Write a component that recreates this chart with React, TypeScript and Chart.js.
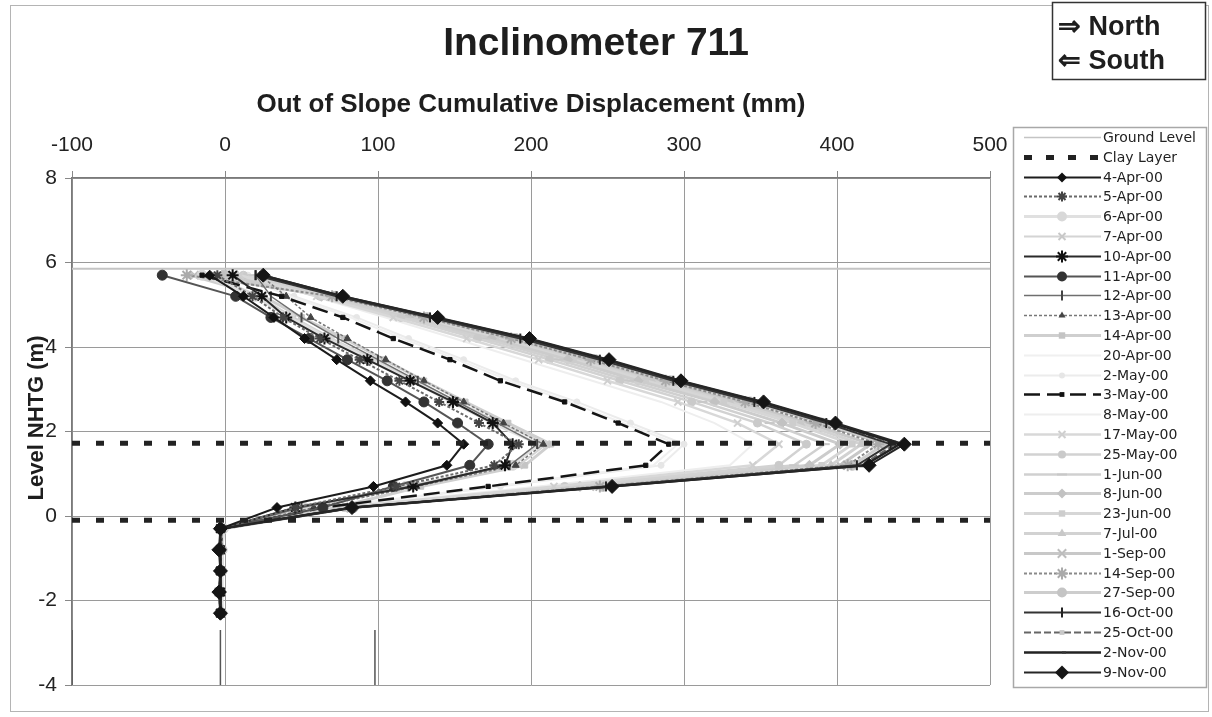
import React, { useEffect, useRef } from 'react';
import { Chart, registerables } from 'chart.js';

Chart.register(...registerables);

// ---------- data ----------
const titleText = 'Inclinometer 711';
const xAxisTitle = 'Out of Slope Cumulative Displacement (mm)';
const yAxisTitle = 'Level NHTG (m)';
const northLabel = '⇒ North';
const southLabel = '⇐ South';

const xTicks = [-100, 0, 100, 200, 300, 400, 500];
const yTicks = [-4, -2, 0, 2, 4, 6, 8];

const depths = [5.7, 5.2, 4.7, 4.2, 3.7, 3.2, 2.7, 2.2, 1.7, 1.2, 0.7, 0.2, -0.3, -0.8, -1.3, -1.8, -2.3];

const groundLevel = 5.85;
const clayLayerTop = 1.72;
const clayLayerBottom = -0.1;

const surveyDates = [
  '4-Apr-00', '5-Apr-00', '6-Apr-00', '7-Apr-00', '10-Apr-00', '11-Apr-00', '12-Apr-00', '13-Apr-00',
  '14-Apr-00', '20-Apr-00', '2-May-00', '3-May-00', '8-May-00', '17-May-00', '25-May-00', '1-Jun-00',
  '8-Jun-00', '23-Jun-00', '7-Jul-00', '1-Sep-00', '14-Sep-00', '27-Sep-00', '16-Oct-00', '25-Oct-00',
  '2-Nov-00', '9-Nov-00',
];

const apr04 = [-10, 12, 32, 52, 73, 95, 118, 139, 156, 145, 97, 34, -3, -3, -3, -3, -3];
const apr05 = [-5, 18, 38, 62, 88, 114, 140, 166, 192, 176, 112, 46, -2, -3, -3, -4, -3];
const apr06 = [-15, 20, 42, 68, 95, 122, 148, 175, 205, 188, 118, 52, -1, -2, -2, -3, -2];
const apr07 = [-8, 22, 45, 70, 98, 125, 152, 180, 210, 192, 122, 56, -2, -2, -3, -3, -3];
const apr10 = [5, 24, 40, 65, 93, 121, 149, 175, 188, 183, 123, 46, -3, -3, -3, -3, -3];
const apr11 = [-41, 7, 30, 55, 80, 106, 130, 152, 172, 160, 110, 64, -3, -3, -3, -3, -3];
const apr12 = [20, 30, 50, 74, 100, 126, 152, 178, 204, 186, 120, 50, -2, -3, -3, -3, -2];
const apr13 = [23, 40, 56, 80, 105, 130, 156, 182, 208, 190, 125, 58, -2, -2, -3, -3, -3];
const apr14 = [-23, 25, 50, 78, 104, 130, 157, 185, 213, 196, 128, 73, -1, -2, -2, -2, -2];
const apr20 = [10, 42, 82, 116, 152, 186, 225, 260, 296, 280, 176, 66, -2, -2, -3, -3, -3];
const may02 = [15, 45, 86, 120, 156, 190, 230, 265, 300, 285, 180, 68, -2, -2, -2, -3, -3];
const may03 = [-15, 37, 77, 110, 147, 180, 222, 257, 290, 275, 172, 64, -2, -3, -3, -3, -3];
const may08 = [15, 58, 105, 150, 195, 240, 285, 320, 345, 330, 205, 72, -2, -2, -3, -3, -3];
const may17 = [10, 60, 110, 158, 205, 250, 296, 335, 362, 345, 215, 75, -2, -2, -3, -3, -3];
const may25 = [12, 62, 115, 165, 212, 258, 305, 348, 380, 362, 222, 78, -1, -2, -2, -3, -3];
const jun01 = [18, 64, 118, 170, 218, 264, 312, 356, 392, 372, 228, 78, -2, -2, -2, -3, -2];
const jun08 = [-2, 63, 120, 174, 224, 270, 320, 364, 402, 382, 232, 80, -2, -3, -3, -3, -3];
const jun23 = [5, 66, 123, 177, 228, 275, 326, 371, 410, 390, 236, 80, -2, -2, -3, -3, -3];
const jul07 = [8, 67, 126, 180, 231, 279, 330, 376, 416, 396, 240, 82, -2, -2, -2, -3, -3];
const sep01 = [-20, 69, 128, 184, 235, 284, 335, 381, 422, 402, 243, 82, -2, -3, -3, -3, -3];
const sep14 = [-25, 70, 130, 187, 239, 288, 340, 386, 427, 407, 245, 83, -3, -3, -3, -4, -3];
const sep27 = [0, 72, 132, 190, 242, 291, 343, 390, 431, 410, 247, 84, -2, -2, -3, -3, -3];
const oct16 = [20, 73, 134, 193, 245, 293, 346, 393, 435, 413, 249, 84, -3, -3, -3, -3, -3];
const oct25 = [22, 75, 136, 195, 247, 295, 348, 395, 438, 416, 250, 85, -2, -3, -3, -3, -3];
const nov02 = [24, 76, 137, 197, 249, 296, 350, 397, 441, 418, 252, 84, -3, -3, -3, -3, -3];
const nov09 = [25, 77, 139, 199, 251, 298, 352, 399, 444, 421, 253, 83, -3, -4, -3, -4, -3];

const surveys = [
  apr04, apr05, apr06, apr07, apr10, apr11, apr12, apr13, apr14, apr20, may02, may03, may08,
  may17, may25, jun01, jun08, jun23, jul07, sep01, sep14, sep27, oct16, oct25, nov02, nov09,
];

// short dark vertical segments at the foot of the plot
const footX = [-100, -3, 98];
const footY = [-2.7, -4];

// ---------- styles ----------
type Sty = { line: string; fill: string; w: number; dash?: number[]; pt: string; r: number; rot?: number; z: number };

const seriesStyles: Sty[] = [
  { line: '#1c1c1c', fill: '#111', w: 2, pt: 'rectRot', r: 5, z: 1 },
  { line: '#6a6a6a', fill: '#444', w: 2, dash: [3, 2], pt: 'star', r: 5, z: 1 },
  { line: '#e0e0e0', fill: '#d8d8d8', w: 3, pt: 'circle', r: 5, z: 3 },
  { line: '#d4d4d4', fill: '#c8c8c8', w: 2, pt: 'crossRot', r: 5, z: 3 },
  { line: '#2a2a2a', fill: '#111', w: 2, pt: 'star', r: 6, z: 1 },
  { line: '#555', fill: '#333', w: 2, pt: 'circle', r: 5, z: 1 },
  { line: '#6f6f6f', fill: '#444', w: 1.5, pt: 'line', r: 5, rot: 90, z: 2 },
  { line: '#777', fill: '#444', w: 1.5, dash: [3, 2], pt: 'triangle', r: 4, z: 2 },
  { line: '#cfcfcf', fill: '#c4c4c4', w: 3, pt: 'rect', r: 4, z: 3 },
  { line: '#f0f0f0', fill: '#eeeeee', w: 2, pt: 'circle', r: 0, z: 4 },
  { line: '#ececec', fill: '#e6e6e6', w: 2, pt: 'circle', r: 3, z: 4 },
  { line: '#151515', fill: '#111', w: 2.5, dash: [16, 7], pt: 'rect', r: 3, z: 1 },
  { line: '#eeeeee', fill: '#eaeaea', w: 2, pt: 'circle', r: 0, z: 4 },
  { line: '#d8d8d8', fill: '#cfcfcf', w: 2.5, pt: 'crossRot', r: 5, z: 3 },
  { line: '#d2d2d2', fill: '#cacaca', w: 2.5, pt: 'circle', r: 4, z: 3 },
  { line: '#d0d0d0', fill: '#c8c8c8', w: 2.5, pt: 'line', r: 5, z: 3 },
  { line: '#cccccc', fill: '#c2c2c2', w: 3, pt: 'rectRot', r: 5, z: 3 },
  { line: '#d6d6d6', fill: '#cdcdcd', w: 3, pt: 'rect', r: 4, z: 3 },
  { line: '#d2d2d2', fill: '#c8c8c8', w: 3, pt: 'triangle', r: 5, z: 3 },
  { line: '#c8c8c8', fill: '#bdbdbd', w: 3, pt: 'crossRot', r: 6, z: 3 },
  { line: '#8a8a8a', fill: '#aaaaaa', w: 2, dash: [3, 2], pt: 'star', r: 6, z: 2 },
  { line: '#cdcdcd', fill: '#c4c4c4', w: 3, pt: 'circle', r: 5, z: 3 },
  { line: '#333', fill: '#222', w: 2, pt: 'line', r: 5, rot: 90, z: 1 },
  { line: '#666', fill: '#c8c8c8', w: 2, dash: [7, 3], pt: 'rect', r: 3, z: 2 },
  { line: '#222', fill: '#333', w: 2.5, pt: 'dash', r: 4, z: 1 },
  { line: '#262626', fill: '#151515', w: 2, pt: 'rectRot', r: 7, z: 0 },
];

const groundStyle = { line: '#c4c4c4', w: 2 };
const clayStyle = { line: '#222', w: 5, dash: [8, 16] };

const FONT = '"Liberation Sans", Arial, sans-serif';

// ---------- marker drawing for the legend ----------
function drawMarker(ctx: CanvasRenderingContext2D, s: Sty, x: number, y: number) {
  const r = s.r;
  if (r <= 0) return;
  ctx.save();
  ctx.translate(x, y);
  if (s.rot) ctx.rotate((s.rot * Math.PI) / 180);
  ctx.fillStyle = s.fill;
  ctx.strokeStyle = s.fill;
  ctx.lineWidth = 2;
  ctx.setLineDash([]);
  ctx.beginPath();
  switch (s.pt) {
    case 'circle':
      ctx.arc(0, 0, r, 0, Math.PI * 2);
      ctx.fill();
      break;
    case 'rect':
      ctx.fillRect(-r * 0.8, -r * 0.8, r * 1.6, r * 1.6);
      break;
    case 'rectRot':
      ctx.moveTo(0, -r); ctx.lineTo(r, 0); ctx.lineTo(0, r); ctx.lineTo(-r, 0); ctx.closePath();
      ctx.fill();
      break;
    case 'triangle':
      ctx.moveTo(0, -r); ctx.lineTo(r * 0.87, r * 0.5); ctx.lineTo(-r * 0.87, r * 0.5); ctx.closePath();
      ctx.fill();
      break;
    case 'crossRot':
      ctx.moveTo(-r * 0.7, -r * 0.7); ctx.lineTo(r * 0.7, r * 0.7);
      ctx.moveTo(r * 0.7, -r * 0.7); ctx.lineTo(-r * 0.7, r * 0.7);
      ctx.stroke();
      break;
    case 'star':
      ctx.moveTo(-r * 0.7, -r * 0.7); ctx.lineTo(r * 0.7, r * 0.7);
      ctx.moveTo(r * 0.7, -r * 0.7); ctx.lineTo(-r * 0.7, r * 0.7);
      ctx.moveTo(0, -r); ctx.lineTo(0, r);
      ctx.moveTo(-r, 0); ctx.lineTo(r, 0);
      ctx.stroke();
      break;
    case 'line':
      ctx.moveTo(-r, 0); ctx.lineTo(r, 0);
      ctx.stroke();
      break;
    case 'dash':
      ctx.moveTo(0, 0); ctx.lineTo(r, 0);
      ctx.stroke();
      break;
  }
  ctx.restore();
}

const decorPlugin = {
  id: 'decor',
  beforeDraw(chart: any) {
    const ctx = chart.ctx as CanvasRenderingContext2D;
    ctx.save();
    ctx.fillStyle = '#ffffff';
    ctx.fillRect(0, 0, chart.width, chart.height);
    ctx.restore();
  },
  afterDraw(chart: any) {
    const ctx = chart.ctx as CanvasRenderingContext2D;
    const area = chart.chartArea;
    ctx.save();

    // outer frame
    ctx.strokeStyle = '#b4b4b4';
    ctx.lineWidth = 1;
    ctx.strokeRect(10.5, 5.5, 1198, 706);

    // title
    ctx.fillStyle = '#1e1e1e';
    ctx.textAlign = 'center';
    ctx.textBaseline = 'alphabetic';
    ctx.font = `bold 39px ${FONT}`;
    ctx.fillText(titleText, 596, 55);

    // x axis title
    ctx.font = `bold 26px ${FONT}`;
    ctx.fillText(xAxisTitle, (area.left + area.right) / 2, 112);

    // y axis title
    ctx.save();
    ctx.translate(37, 418);
    ctx.rotate(-Math.PI / 2);
    ctx.textBaseline = 'middle';
    ctx.font = `bold 22px ${FONT}`;
    ctx.fillText(yAxisTitle, 0, 0);
    ctx.restore();

    // North / South box
    ctx.fillStyle = '#ffffff';
    ctx.fillRect(1052, 2, 154, 78);
    ctx.strokeStyle = '#333';
    ctx.lineWidth = 1.5;
    ctx.strokeRect(1052.5, 2.5, 153, 77);
    ctx.fillStyle = '#1e1e1e';
    ctx.textAlign = 'left';
    ctx.textBaseline = 'middle';
    ctx.font = `bold 27px ${FONT}`;
    ctx.fillText(northLabel, 1058, 28);
    ctx.fillText(southLabel, 1058, 62);

    // legend box
    ctx.strokeStyle = '#a8a8a8';
    ctx.lineWidth = 1.5;
    ctx.strokeRect(1013.5, 127.5, 193, 560);

    const lx0 = 1024, lx1 = 1101, tx = 1103, mx = 1062;
    const entries: { label: string; line: string; w: number; dash?: number[]; sty?: Sty }[] = [
      { label: 'Ground Level', line: groundStyle.line, w: 1.5 },
      { label: 'Clay Layer', line: clayStyle.line, w: 5, dash: [8, 14] },
      ...surveyDates.map((d, i) => ({ label: d, line: seriesStyles[i].line, w: seriesStyles[i].w, dash: seriesStyles[i].dash, sty: seriesStyles[i] })),
    ];
    entries.forEach((e, i) => {
      const y = Math.round(137 + i * 19.8) + 0.5;
      ctx.strokeStyle = e.line;
      ctx.lineWidth = e.w;
      ctx.setLineDash(e.dash || []);
      ctx.beginPath();
      ctx.moveTo(lx0, y);
      ctx.lineTo(lx1, y);
      ctx.stroke();
      ctx.setLineDash([]);
      if (e.sty) drawMarker(ctx, e.sty, mx, y);
      ctx.fillStyle = '#222';
      ctx.font = '14px "DejaVu Sans", sans-serif';
      ctx.textAlign = 'left';
      ctx.textBaseline = 'middle';
      ctx.fillText(e.label, tx, y + 0.5);
    });

    ctx.restore();
  },
};

function buildDatasets() {
  const ds: any[] = [];
  ds.push({
    label: 'Ground Level',
    data: [{ x: xTicks[0], y: groundLevel }, { x: xTicks[xTicks.length - 1], y: groundLevel }],
    borderColor: groundStyle.line,
    borderWidth: groundStyle.w,
    pointRadius: 0,
    showLine: true,
    order: 5,
  });
  [clayLayerTop, clayLayerBottom].forEach((lvl, k) => {
    ds.push({
      label: k === 0 ? 'Clay Layer' : 'Clay Layer (lower)',
      data: [{ x: xTicks[0], y: lvl }, { x: xTicks[xTicks.length - 1], y: lvl }],
      borderColor: clayStyle.line,
      borderWidth: clayStyle.w,
      borderDash: clayStyle.dash,
      borderCapStyle: 'butt',
      pointRadius: 0,
      showLine: true,
      order: 0,
    });
  });
  footX.forEach((fx) => {
    ds.push({
      label: 'foot',
      data: footY.map((fy) => ({ x: fx, y: fy })),
      borderColor: '#555',
      borderWidth: 1.5,
      pointRadius: 0,
      showLine: true,
      order: 4,
    });
  });
  surveys.forEach((vals, i) => {
    const s = seriesStyles[i];
    ds.push({
      label: surveyDates[i],
      data: vals.map((v, j) => ({ x: v, y: depths[j] })),
      borderColor: s.line,
      backgroundColor: s.fill,
      borderWidth: s.w,
      borderDash: s.dash || [],
      pointStyle: s.pt,
      pointRadius: s.r,
      pointRotation: s.rot || 0,
      pointBackgroundColor: s.fill,
      pointBorderColor: s.fill,
      pointBorderWidth: s.pt === 'star' || s.pt === 'crossRot' || s.pt === 'line' || s.pt === 'dash' ? 2 : 1,
      showLine: true,
      tension: 0,
      order: s.z + 0.5,
    });
  });
  return ds;
}

export default function App() {
  const ref = useRef<HTMLCanvasElement | null>(null);
  useEffect(() => {
    if (!ref.current) return;
    const chart = new Chart(ref.current, {
      type: 'scatter',
      data: { datasets: buildDatasets() },
      plugins: [decorPlugin],
      options: {
        responsive: false,
        animation: false,
        devicePixelRatio: 1,
        events: [],
        layout: { padding: { left: 0, top: 0, right: 222, bottom: 32 } },
        plugins: {
          legend: { display: false },
          title: { display: false },
          tooltip: { enabled: false },
        },
        scales: {
          x: {
            type: 'linear',
            position: 'top',
            min: xTicks[0],
            max: xTicks[xTicks.length - 1],
            afterBuildTicks: (s: any) => { s.ticks = xTicks.map((v) => ({ value: v })); },
            afterFit: (s: any) => { s.height = 178; },
            ticks: { font: { family: FONT, size: 21 }, color: '#222', padding: 13, maxRotation: 0 },
            grid: { color: '#9a9a9a', lineWidth: 1, tickLength: 7, tickColor: '#888' },
            border: { color: '#7a7a7a', width: 1.5 },
          },
          y: {
            type: 'linear',
            min: yTicks[0],
            max: yTicks[yTicks.length - 1],
            afterBuildTicks: (s: any) => { s.ticks = yTicks.map((v) => ({ value: v })); },
            afterFit: (s: any) => { s.width = 72; },
            ticks: { font: { family: FONT, size: 21 }, color: '#222', padding: 8 },
            grid: { color: '#9a9a9a', lineWidth: 1, tickLength: 7, tickColor: '#888' },
            border: { color: '#7a7a7a', width: 1.5 },
          },
        },
      } as any,
    });
    return () => chart.destroy();
  }, []);
  return (
    <div style={{ position: 'absolute', left: 0, top: 0, width: 1212, height: 717, background: '#fff' }}>
      <canvas ref={ref} width={1212} height={717} style={{ display: 'block', width: 1212, height: 717 }} />
    </div>
  );
}
